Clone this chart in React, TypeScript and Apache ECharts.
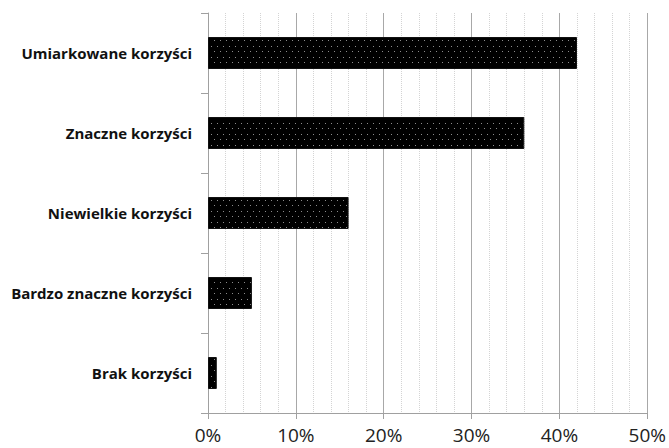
import React, { useEffect, useRef } from "react";
import * as echarts from "echarts";

const categories = [
  "Umiarkowane korzyści",
  "Znaczne korzyści",
  "Niewielkie korzyści",
  "Bardzo znaczne korzyści",
  "Brak korzyści",
];
const values = [42, 36, 16, 5, 1];
const xTicks = [0, 10, 20, 30, 40, 50];

function makePattern(): HTMLCanvasElement {
  const c = document.createElement("canvas");
  c.width = 6;
  c.height = 11;
  const ctx = c.getContext("2d")!;
  ctx.fillStyle = "#000000";
  ctx.fillRect(0, 0, 6, 11);
  ctx.fillStyle = "#8c8c8c";
  ctx.fillRect(1, 2, 1, 1);
  ctx.fillRect(4, 7, 1, 1);
  return c;
}

export default function App() {
  const ref = useRef<HTMLDivElement>(null);
  useEffect(() => {
    const chart = echarts.init(ref.current!, null, { renderer: "svg" });
    chart.setOption({
      animation: false,
      backgroundColor: "#ffffff",
      grid: { left: 208, right: 19, top: 13, bottom: 35 },
      xAxis: {
        type: "value",
        min: xTicks[0],
        max: xTicks[xTicks.length - 1],
        interval: 10,
        axisLine: { show: true, lineStyle: { color: "#a0a0a0", width: 1 } },
        axisTick: { show: true, length: 6, lineStyle: { color: "#a0a0a0" } },
        axisLabel: {
          formatter: (v: number) => v + "%",
          fontFamily: "Open Sans",
          fontSize: 19,
          color: "#222",
          margin: 12,
        },
        splitLine: { show: true, lineStyle: { color: "#a8a8a8", width: 1 } },
        minorTick: { show: false, splitNumber: 5 },
        minorSplitLine: {
          show: true,
          lineStyle: { color: "#d4d4d4", width: 1, type: [1, 1] },
        },
      },
      yAxis: {
        type: "category",
        data: categories,
        inverse: true,
        axisLine: { show: true, lineStyle: { color: "#a0a0a0", width: 1 } },
        axisTick: { show: true, length: 7, inside: false, lineStyle: { color: "#a0a0a0" } },
        axisLabel: {
          fontFamily: "Open Sans",
          fontWeight: "bold",
          fontSize: 15,
          color: "#111",
          margin: 16,
        },
        splitLine: { show: false },
      },
      series: [
        {
          type: "bar",
          data: values,
          barWidth: "40%",
          itemStyle: {
            color: { image: makePattern(), repeat: "repeat" },
            borderColor: "#111",
            borderWidth: 1,
          },
        },
      ],
    });
    return () => chart.dispose();
  }, []);
  return (
    <div
      ref={ref}
      style={{ position: "fixed", left: 0, top: 0, width: 669, height: 448 }}
    />
  );
}
